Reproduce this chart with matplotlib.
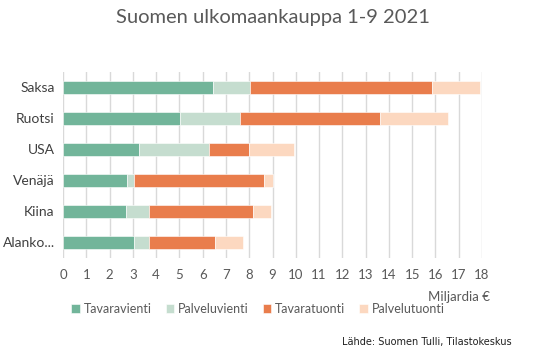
import matplotlib.pyplot as plt
import numpy as np

plt.rcParams['font.family'] = ['Lato', 'DejaVu Sans']

maat = ['Saksa', 'Ruotsi', 'USA', 'Venäjä', 'Kiina', 'Alanko...']
tavaravienti = [6.45, 5.03, 3.26, 2.73, 2.69, 3.06]
palveluvienti = [1.6, 2.57, 3.03, 0.33, 1.0, 0.63]
tavaratuonti = [7.8, 6.0, 1.7, 5.56, 4.49, 2.84]
palvelutuonti = [2.05, 2.93, 1.93, 0.41, 0.75, 1.19]
sarjat = ['Tavaravienti', 'Palveluvienti', 'Tavaratuonti', 'Palvelutuonti']
varit = ['#72B59A', '#C5DDCF', '#E97D4C', '#FCD8C0']

fig = plt.figure(figsize=(5.56, 3.54), dpi=100)
ax = fig.add_axes([63 / 556, 1 - 258 / 354, 419 / 556, 186 / 354])

y = np.arange(len(maat))
left = np.zeros(len(maat))
for nimi, arvot, vari in zip(sarjat, [tavaravienti, palveluvienti, tavaratuonti, palvelutuonti], varit):
    ax.barh(y, arvot, left=left, height=0.4, color=vari, label=nimi,
            edgecolor='white', linewidth=0.4, zorder=3)
    left += np.array(arvot)

ax.set_ylim(len(maat) - 0.5, -0.5)
ax.set_xlim(0, 18)
ax.set_xticks(range(0, 19))
ax.set_yticks(y)
ax.set_yticklabels(maat, fontsize=10, color='#404040')
ax.tick_params(axis='x', labelsize=9.5, colors='#595959', length=0, pad=8)
ax.tick_params(axis='y', length=0, pad=6)
ax.grid(axis='x', color='#D9D9D9', linewidth=1, zorder=0)
for s in ax.spines.values():
    s.set_visible(False)

fig.text(0.49, 1 - 17 / 354, 'Suomen ulkomaankauppa 1-9 2021', ha='center', va='center',
         fontsize=14.5, color='#595959')
fig.text(490 / 556, 1 - 297 / 354, 'Miljardia €', ha='right', va='center',
         fontsize=9.5, color='#595959')
fig.text(512 / 556, 1 - 342 / 354, 'Lähde: Suomen Tulli, Tilastokeskus', ha='right', va='center',
         fontsize=7, color='#202020', family=['DejaVu Sans'])

leg = ax.legend(loc='center', bbox_to_anchor=(258 / 556, 1 - 309 / 354), bbox_transform=fig.transFigure,
                ncol=4, frameon=False, fontsize=9, handlelength=0.7, handleheight=0.7,
                handletextpad=0.3, columnspacing=1.1)
for t in leg.get_texts():
    t.set_color('#595959')

fig.savefig('out.png', dpi=100)
